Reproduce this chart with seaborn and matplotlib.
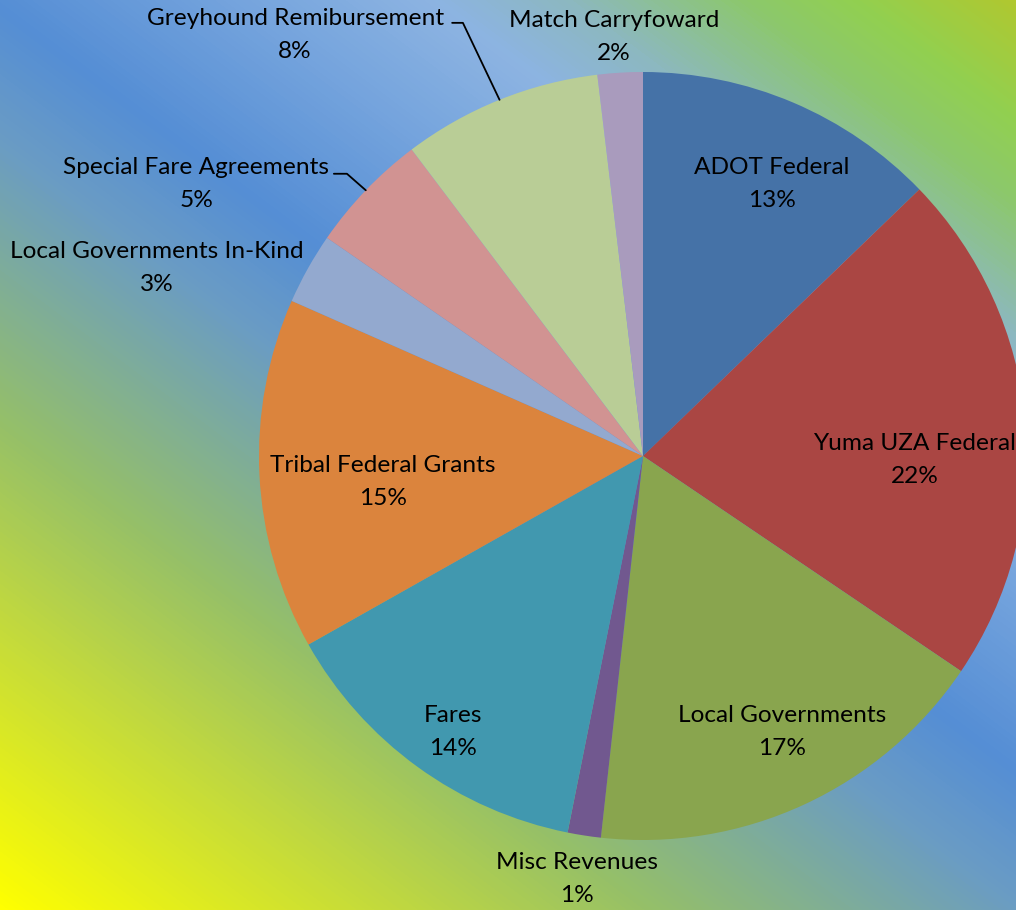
import matplotlib
matplotlib.use("Agg")
import matplotlib.pyplot as plt
import numpy as np
import seaborn as sns
from matplotlib.colors import LinearSegmentedColormap

# Revenue sources, clockwise from 12 o'clock
categories = ["ADOT Federal", "Yuma UZA Federal", "Local Governments", "Misc Revenues",
              "Fares", "Tribal Federal Grants", "Local Governments In-Kind",
              "Special Fare Agreements", "Greyhound Remibursement", "Match Carryfoward"]
shares = [12.8, 21.7, 17.3, 1.4, 13.7, 14.8, 3.0, 5.1, 8.4, 1.9]
slice_colors = ["#4572A7", "#AA4643", "#89A54E", "#71588F", "#4198AF",
                "#DB843D", "#93A9CF", "#D19392", "#B9CD96", "#A99BBD"]

# label centres in pie-radius units (x right, y up)
label_pos = [(0.336, 0.708), (0.708, -0.010), (0.362, -0.719), (-0.172, -1.102),
             (-0.495, -0.719), (-0.677, -0.068), (-1.266, 0.490), (-1.164, 0.708),
             (-0.906, 1.096), (-0.076, 1.091)]
# leader lines: label name -> (text end x, elbow x, y)
leaders = {"Special Fare Agreements": (-0.805, -0.771, 0.735),
           "Greyhound Remibursement": (-0.497, -0.469, 1.128)}

sns.set_style("white")
plt.rcParams["font.family"] = ["Lato", "DejaVu Sans"]

W, H = 1016, 910
fig = plt.figure(figsize=(W / 100, H / 100), dpi=100)

# diagonal gradient background
bg = fig.add_axes([0, 0, 1, 1])
yy, xx = np.mgrid[0:H, 0:W]
t = (0.6 * xx + 0.8 * (H - yy)) / 1338.0
grad_cmap = LinearSegmentedColormap.from_list("bg", [
    (0.00, "#FFFF00"), (0.18, "#C0D840"), (0.29, "#96C068"), (0.46, "#6A9CC4"),
    (0.54, "#558ED5"), (0.66, "#78A6DE"), (0.74, "#8DB4E2"), (0.80, "#8CB8C0"),
    (0.88, "#8CC86C"), (0.93, "#92D050"), (1.00, "#B0C830")])
bg.imshow(t, cmap=grad_cmap, vmin=0, vmax=1, aspect="auto", interpolation="bilinear")
bg.set_axis_off()

# pie axes: centre (643, 456) px, radius 384 px
r = 384
ax = fig.add_axes([(643 - r) / W, (H - 456 - r) / H, 2 * r / W, 2 * r / H])
ax.patch.set_alpha(0)
wedges, _ = ax.pie(shares, colors=sns.color_palette(slice_colors), startangle=90,
                   counterclock=False, wedgeprops=dict(linewidth=0))
ax.set_xlim(-1, 1)
ax.set_ylim(-1, 1)
ax.set_aspect("equal")
ax.set_axis_off()

total = sum(shares)
for name, val, (lx, ly), w in zip(categories, shares, label_pos, wedges):
    ax.text(lx, ly, f"{name}\n{round(val / total * 100)}%", ha="center", va="center",
            multialignment="center", fontsize=17.6, linespacing=1.7, color="black",
            clip_on=False)
    if name in leaders:
        x0, x1, y0 = leaders[name]
        mid = np.deg2rad((w.theta1 + w.theta2) / 2)
        ax.plot([x0, x1, np.cos(mid)], [y0, y0, np.sin(mid)], color="black",
                lw=1.3, clip_on=False)

fig.savefig("out.png", dpi=100)
